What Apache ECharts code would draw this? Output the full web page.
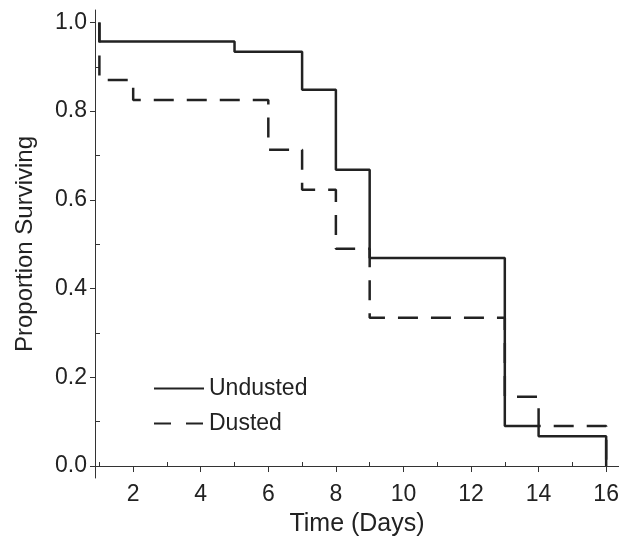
<!DOCTYPE html>
<html>
  <head>
    <meta charset="utf-8">
    <title>Proportion Surviving</title>
    <script src="https://cdn.jsdelivr.net/npm/echarts@6/dist/echarts.min.js"></script>
    <style>
      html, body { margin: 0; padding: 0; background: #fff; }
      #chart { width: 619px; height: 537px; }
    </style>
  </head>
  <body>
    <div id="chart"></div>
    <script type="text/javascript">
      // survival steps (day, proportion after that day)
      var undustedDays = [1, 1, 5, 7, 8, 9, 13, 14, 16];
      var undustedProp = [1.0, 0.957, 0.934, 0.848, 0.668, 0.469, 0.090, 0.067, 0.0];
      var dustedDays = [1, 1, 2, 6, 7, 8, 9, 13, 14, 16, 16];
      var dustedProp = [1.0, 0.870, 0.825, 0.713, 0.623, 0.490, 0.334, 0.156, 0.090, 0.090, 0.0];

      var xMajor = [2, 4, 6, 8, 10, 12, 14, 16];
      var xMinor = [1, 3, 5, 7, 9, 11, 13, 15];
      var yMajor = [0, 0.2, 0.4, 0.6, 0.8, 1.0];
      var yMinor = [0.1, 0.3, 0.5, 0.7, 0.9];

      var ink = '#222';
      var font = 'Liberation Sans, Arial, sans-serif';

      function pairs(xs, ys) {
        var out = [];
        for (var i = 0; i < xs.length; i++) out.push([xs[i], ys[i]]);
        return out;
      }

      var myChart = echarts.init(document.getElementById('chart'));

      var xBase = { type: 'value', min: 0.87, max: 16.38, splitLine: { show: false } };
      var yBase = { type: 'value', min: -0.027, max: 1.028, splitLine: { show: false } };

      var option = {
        animation: false,
        grid: { left: 95, right: 0, top: 10, bottom: 59, containLabel: false, outerBoundsMode: 'none' },
        xAxis: [
          Object.assign({}, xBase, {
            name: 'Time (Days)', nameLocation: 'middle', nameGap: 34,
            nameTextStyle: { color: ink, fontSize: 25, fontFamily: font },
            axisLine: { onZero: true, lineStyle: { color: '#333', width: 1 } },
            axisTick: { customValues: xMajor, length: 6, lineStyle: { color: '#333' } },
            axisLabel: { customValues: xMajor, margin: 5, color: ink, fontSize: 23, fontFamily: font }
          }),
          Object.assign({}, xBase, {
            axisLine: { onZero: true, lineStyle: { color: '#333', width: 1 } },
            axisTick: { customValues: xMinor, length: 4, lineStyle: { color: '#333' } },
            axisLabel: { show: false }
          })
        ],
        yAxis: [
          Object.assign({}, yBase, {
            name: 'Proportion Surviving', nameLocation: 'middle', nameGap: 58,
            nameTextStyle: { color: ink, fontSize: 24, fontFamily: font },
            axisLine: { show: true, onZero: false, lineStyle: { color: '#333', width: 1 } },
            axisTick: { customValues: yMajor, length: 5, lineStyle: { color: '#333' } },
            axisLabel: { customValues: yMajor, margin: 8, color: ink, fontSize: 23, fontFamily: font,
              formatter: function (v) { return v.toFixed(1); } }
          }),
          Object.assign({}, yBase, {
            position: 'left',
            axisLine: { show: false, onZero: false },
            axisTick: { customValues: yMinor, inside: true, length: 5, lineStyle: { color: '#333' } },
            axisLabel: { show: false }
          })
        ],
        legend: {
          orient: 'vertical', left: 148, top: 372, itemGap: 12,
          itemWidth: 50, itemHeight: 24,
          itemStyle: { opacity: 0 },
          textStyle: { color: ink, fontSize: 23, fontFamily: font },
          data: [
            { name: 'Undusted' },
            { name: 'Dusted', lineStyle: { type: [17, 15] } }
          ]
        },
        series: [
          {
            name: 'Undusted', type: 'line', step: 'end', symbol: 'none',
            lineStyle: { color: ink, width: 2.5 },
            itemStyle: { color: ink },
            data: pairs(undustedDays, undustedProp)
          },
          {
            name: 'Dusted', type: 'line', step: 'end', symbol: 'none',
            lineStyle: { color: ink, width: 2.5, type: [20, 13] },
            itemStyle: { color: ink },
            data: pairs(dustedDays, dustedProp)
          }
        ]
      };

      myChart.setOption(option);
    </script>
  </body>
</html>
